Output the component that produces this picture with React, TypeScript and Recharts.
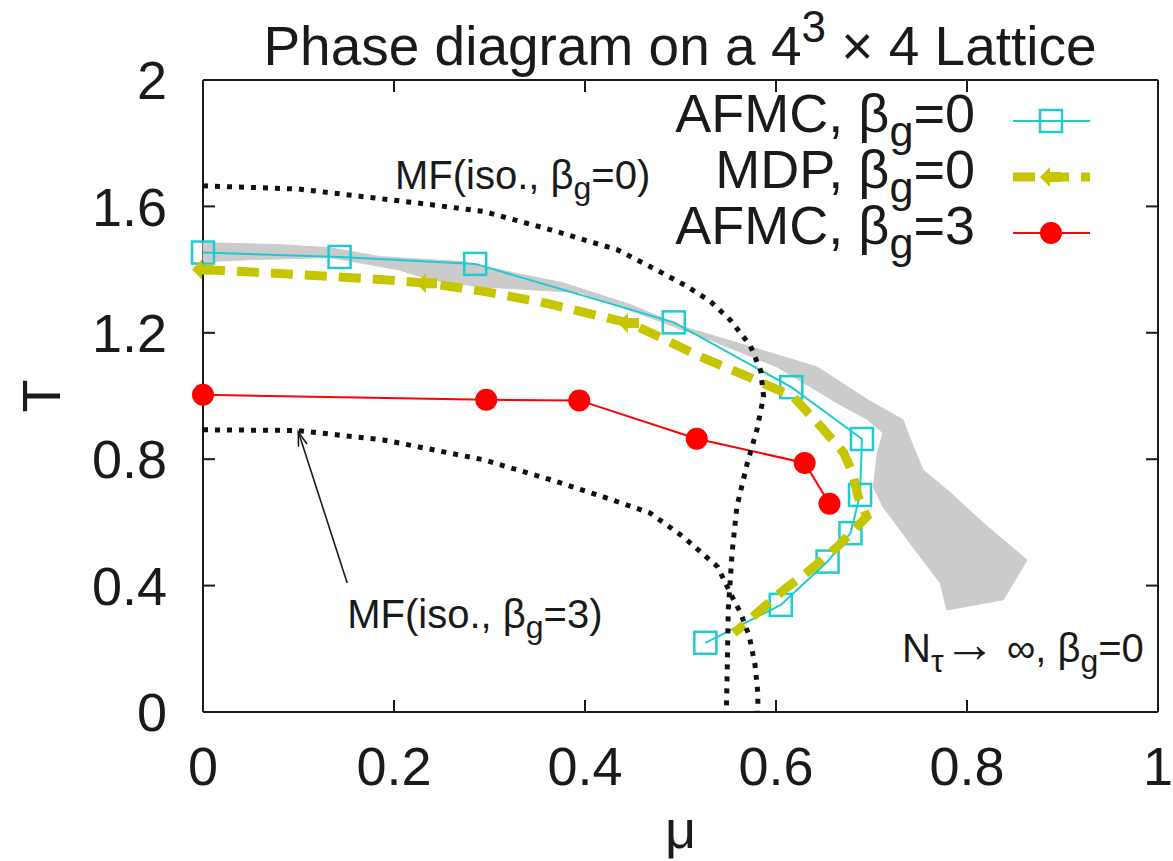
import React from "react";
import { ComposedChart, Scatter, XAxis, YAxis, ReferenceLine, ReferenceDot } from "recharts";

type Pt = { mu: number; T: number };
type Part = { t: string; sub?: boolean; sup?: boolean; big?: boolean };

const W = 1173;
const H = 861;
const FONT = '"Liberation Sans", Arial, Helvetica, sans-serif';

const CYAN = "#1fcbd1";
const OLIVE = "#c5c500";
const RED = "#ff0000";
const GRAY = "#cbcbcb";
const INK = "#1a1a1a";

const xTicks = [0, 0.2, 0.4, 0.6, 0.8, 1];
const yTicks = [0, 0.4, 0.8, 1.2, 1.6, 2];

// N_tau -> infinity band, outer edge then inner edge
const band: Pt[] = [
  { mu: 0.0, T: 1.485 }, { mu: 0.081, T: 1.479 }, { mu: 0.133, T: 1.469 },
  { mu: 0.186, T: 1.441 }, { mu: 0.273, T: 1.425 }, { mu: 0.325, T: 1.39 },
  { mu: 0.377, T: 1.358 }, { mu: 0.448, T: 1.289 }, { mu: 0.503, T: 1.219 },
  { mu: 0.584, T: 1.146 }, { mu: 0.643, T: 1.092 }, { mu: 0.664, T: 1.051 },
  { mu: 0.696, T: 0.988 }, { mu: 0.733, T: 0.925 }, { mu: 0.741, T: 0.861 },
  { mu: 0.754, T: 0.766 }, { mu: 0.783, T: 0.693 }, { mu: 0.817, T: 0.598 },
  { mu: 0.863, T: 0.481 }, { mu: 0.838, T: 0.355 }, { mu: 0.779, T: 0.323 },
  { mu: 0.772, T: 0.408 }, { mu: 0.748, T: 0.503 }, { mu: 0.712, T: 0.649 },
  { mu: 0.702, T: 0.712 }, { mu: 0.706, T: 0.82 }, { mu: 0.712, T: 0.883 },
  { mu: 0.696, T: 0.925 }, { mu: 0.664, T: 0.978 }, { mu: 0.636, T: 1.029 },
  { mu: 0.601, T: 1.092 }, { mu: 0.539, T: 1.168 }, { mu: 0.468, T: 1.248 },
  { mu: 0.395, T: 1.327 }, { mu: 0.29, T: 1.346 }, { mu: 0.238, T: 1.368 },
  { mu: 0.204, T: 1.4 }, { mu: 0.133, T: 1.438 }, { mu: 0.046, T: 1.431 },
  { mu: 0.0, T: 1.425 },
];

const afmc0: Pt[] = [
  { mu: 0.0, T: 1.454 }, { mu: 0.143, T: 1.44 }, { mu: 0.285, T: 1.418 },
  { mu: 0.493, T: 1.233 }, { mu: 0.616, T: 1.028 }, { mu: 0.69, T: 0.864 },
  { mu: 0.688, T: 0.687 }, { mu: 0.678, T: 0.566 }, { mu: 0.654, T: 0.476 },
  { mu: 0.605, T: 0.339 }, { mu: 0.526, T: 0.219 },
];

const mdpCurve: Pt[] = [
  { mu: 0.0, T: 1.4 }, { mu: 0.084, T: 1.387 }, { mu: 0.189, T: 1.368 },
  { mu: 0.2345, T: 1.357 }, { mu: 0.294, T: 1.331 }, { mu: 0.36, T: 1.293 },
  { mu: 0.446, T: 1.231 }, { mu: 0.469, T: 1.2 }, { mu: 0.521, T: 1.124 },
  { mu: 0.573, T: 1.058 }, { mu: 0.618, T: 0.998 }, { mu: 0.65, T: 0.893 },
  { mu: 0.671, T: 0.82 }, { mu: 0.68, T: 0.757 }, { mu: 0.686, T: 0.682 },
  { mu: 0.695, T: 0.618 }, { mu: 0.664, T: 0.522 }, { mu: 0.636, T: 0.45 },
  { mu: 0.608, T: 0.386 }, { mu: 0.58, T: 0.313 }, { mu: 0.566, T: 0.275 },
  { mu: 0.556, T: 0.25 },
];

const mdpMarks: Pt[] = [
  { mu: 0.0, T: 1.4 }, { mu: 0.2345, T: 1.357 }, { mu: 0.446, T: 1.231 },
];

const afmc3: Pt[] = [
  { mu: 0.0, T: 1.004 }, { mu: 0.2966, T: 0.988 }, { mu: 0.394, T: 0.986 },
  { mu: 0.517, T: 0.865 }, { mu: 0.63, T: 0.788 }, { mu: 0.656, T: 0.659 },
];

const mfIso0: Pt[] = [
  { mu: 0.0, T: 1.665 }, { mu: 0.1, T: 1.655 }, { mu: 0.224, T: 1.611 },
  { mu: 0.294, T: 1.584 }, { mu: 0.364, T: 1.526 }, { mu: 0.4335, T: 1.463 },
  { mu: 0.468, T: 1.41 }, { mu: 0.505, T: 1.35 }, { mu: 0.531, T: 1.3 },
  { mu: 0.552, T: 1.241 }, { mu: 0.573, T: 1.16 }, { mu: 0.584, T: 1.08 },
  { mu: 0.587, T: 0.998 }, { mu: 0.58, T: 0.893 }, { mu: 0.57, T: 0.788 },
  { mu: 0.559, T: 0.649 }, { mu: 0.554, T: 0.503 }, { mu: 0.55, T: 0.323 },
  { mu: 0.549, T: 0.143 }, { mu: 0.548, T: 0.0 },
];

const mfIso3: Pt[] = [
  { mu: 0.0, T: 0.893 }, { mu: 0.098, T: 0.891 }, { mu: 0.189, T: 0.861 },
  { mu: 0.294, T: 0.798 }, { mu: 0.364, T: 0.735 }, { mu: 0.42, T: 0.68 },
  { mu: 0.468, T: 0.63 }, { mu: 0.503, T: 0.554 }, { mu: 0.539, T: 0.459 },
  { mu: 0.552, T: 0.377 }, { mu: 0.563, T: 0.313 }, { mu: 0.572, T: 0.24 },
  { mu: 0.578, T: 0.15 }, { mu: 0.581, T: 0.06 }, { mu: 0.581, T: 0.0 },
];

const arrowFrom: Pt = { mu: 0.151, T: 0.408 };
const arrowTo: Pt = { mu: 0.0998, T: 0.887 };

const notes: { mu: number; T: number; parts: Part[] }[] = [
  { mu: 0.201, T: 1.656, parts: [{ t: "MF(iso., β" }, { t: "g", sub: true }, { t: "=0)" }] },
  { mu: 0.151, T: 0.266, parts: [{ t: "MF(iso., β" }, { t: "g", sub: true }, { t: "=3)" }] },
  {
    mu: 0.732,
    T: 0.158,
    parts: [
      { t: "N" },
      { t: "τ", sub: true },
      { t: "→", big: true },
      { t: " ∞, β" },
      { t: "g", sub: true },
      { t: "=0" },
    ],
  },
];

const legendRows = [
  { parts: [{ t: "AFMC, β" }, { t: "g", sub: true }, { t: "=0" }], kind: "square" },
  { parts: [{ t: "MDP, β" }, { t: "g", sub: true }, { t: "=0" }], kind: "mdp" },
  { parts: [{ t: "AFMC, β" }, { t: "g", sub: true }, { t: "=3" }], kind: "dot" },
];

const titleParts: Part[] = [
  { t: "Phase diagram on a 4" },
  { t: "3", sup: true },
  { t: " × 4 Lattice" },
];

function Rich({ x, y, parts, size, anchor = "start" }: any) {
  let level = 0;
  return (
    <text x={x} y={y} fontSize={size} fontFamily={FONT} fill={INK} textAnchor={anchor}>
      {parts.map((p: Part, i: number) => {
        const target = p.sub ? size * 0.26 : p.sup ? -size * 0.42 : 0;
        const dy = target - level;
        level = target;
        const fs = p.sub || p.sup ? size * 0.8 : p.big ? size * 1.3 : undefined;
        return (
          <tspan key={i} dy={dy || undefined} fontSize={fs}>
            {p.t}
          </tspan>
        );
      })}
    </text>
  );
}

const Square = (p: any) => (
  <rect x={p.cx - 11} y={p.cy - 11} width={22} height={22} fill="none" stroke={CYAN} strokeWidth={2.5} />
);
const RedDot = (p: any) => <circle cx={p.cx} cy={p.cy} r={11} fill={RED} />;
const ArrowMark = (p: any) => {
  const { cx, cy } = p;
  return (
    <path
      d={`M${cx - 11},${cy} L${cx - 1},${cy - 10} L${cx - 1},${cy - 5} L${cx + 10},${cy - 5} L${cx + 10},${cy + 5} L${cx - 1},${cy + 5} L${cx - 1},${cy + 10} Z`}
      fill={OLIVE}
    />
  );
};
const NoMark = () => <g />;
const NoTick = () => <g />;

const bandShape = (p: any) => {
  const d = p.points.map((q: any, i: number) => `${i ? "L" : "M"}${q.x},${q.y}`).join(" ") + " Z";
  return <path d={d} fill={GRAY} stroke={GRAY} strokeWidth={1} strokeLinejoin="round" />;
};

const arrowShape = (p: any) => {
  const { x1, y1, x2, y2 } = p;
  const a = Math.atan2(y2 - y1, x2 - x1);
  const len = 15;
  const h1x = x2 - len * Math.cos(a - 0.3);
  const h1y = y2 - len * Math.sin(a - 0.3);
  const h2x = x2 - len * Math.cos(a + 0.3);
  const h2y = y2 - len * Math.sin(a + 0.3);
  return (
    <g stroke={INK} strokeWidth={1.6} fill="none">
      <line x1={x1} y1={y1} x2={x2} y2={y2} />
      <path d={`M${h1x},${h1y} L${x2},${y2} L${h2x},${h2y}`} />
    </g>
  );
};

const TLabel = (p: any) => {
  const vb = p.viewBox;
  return (
    <text
      transform={`translate(${vb.x + 60},${vb.y + vb.height / 2}) rotate(-90)`}
      textAnchor="middle"
      fontSize={54}
      fontFamily={FONT}
      fill={INK}
    >
      T
    </text>
  );
};

const tickStyle = { fontSize: 54, fill: INK, fontFamily: FONT };
const axisLine = { stroke: INK, strokeWidth: 2 };
const dotted = { stroke: "#111", strokeWidth: 5, strokeDasharray: "5 7" };

export default function App() {
  return (
    <div style={{ position: "absolute", left: 0, top: 0, width: W, height: H, background: "#fff" }}>
      <ComposedChart width={W} height={H} margin={{ top: 79, right: 14, bottom: 49, left: 0 }}>
        <XAxis
          type="number"
          dataKey="mu"
          domain={[0, 1]}
          ticks={xTicks}
          interval={0}
          height={100}
          tickSize={-12}
          tickMargin={47}
          tick={tickStyle}
          axisLine={axisLine}
          tickLine={axisLine}
          label={{ value: "μ", position: "bottom", offset: -2, fontSize: 54, fill: INK, fontFamily: FONT }}
        />
        {/* mirrored frame: top and right axes carry inward ticks, no labels */}
        <XAxis
          xAxisId="top"
          orientation="top"
          type="number"
          dataKey="mu"
          domain={[0, 1]}
          ticks={xTicks}
          interval={0}
          height={1}
          tickSize={-12}
          tick={NoTick}
          axisLine={axisLine}
          tickLine={axisLine}
        />
        <YAxis
          type="number"
          dataKey="T"
          domain={[0, 2]}
          ticks={yTicks}
          interval={0}
          width={203}
          tickSize={-12}
          tickMargin={48}
          tick={tickStyle}
          axisLine={axisLine}
          tickLine={axisLine}
          label={{ content: TLabel }}
        />
        <YAxis
          yAxisId="right"
          orientation="right"
          type="number"
          dataKey="T"
          domain={[0, 2]}
          ticks={yTicks}
          interval={0}
          width={1}
          tickSize={-12}
          tick={NoTick}
          axisLine={axisLine}
          tickLine={axisLine}
        />

        <Scatter
          data={band}
          xAxisId="top"
          yAxisId="right"
          shape={NoMark}
          line={bandShape}
          isAnimationActive={false}
        />
        <Scatter
          data={afmc0}
          shape={Square}
          line={{ stroke: CYAN, strokeWidth: 2 }}
          isAnimationActive={false}
        />
        <Scatter
          data={mdpCurve}
          shape={NoMark}
          line={{ stroke: OLIVE, strokeWidth: 9, strokeDasharray: "22 12" }}
          isAnimationActive={false}
        />
        <Scatter data={mdpMarks} shape={ArrowMark} isAnimationActive={false} />
        <Scatter
          data={afmc3}
          shape={RedDot}
          line={{ stroke: RED, strokeWidth: 2 }}
          isAnimationActive={false}
        />
        <Scatter data={mfIso0} shape={NoMark} line={dotted} isAnimationActive={false} />
        <Scatter data={mfIso3} shape={NoMark} line={dotted} isAnimationActive={false} />

        <ReferenceLine
          segment={[
            { x: arrowFrom.mu, y: arrowFrom.T },
            { x: arrowTo.mu, y: arrowTo.T },
          ]}
          ifOverflow="visible"
          shape={arrowShape}
        />
        {notes.map((n, i) => (
          <ReferenceDot
            key={i}
            x={n.mu}
            y={n.T}
            r={0}
            ifOverflow="visible"
            shape={(p: any) => <Rich x={p.cx} y={p.cy} parts={n.parts} size={40} />}
          />
        ))}
      </ComposedChart>

      <svg
        width={W}
        height={H}
        style={{ position: "absolute", left: 0, top: 0, pointerEvents: "none" }}
      >
        <Rich x={680} y={65} parts={titleParts} size={55} anchor="middle" />
        {legendRows.map((row, i) => {
          const base = 132 + i * 56;
          const ly = base - 11;
          return (
            <g key={i}>
              <Rich x={975} y={base} parts={row.parts} size={54} anchor="end" />
              {row.kind === "square" && (
                <g>
                  <line x1={1013} y1={ly} x2={1090} y2={ly} stroke={CYAN} strokeWidth={2} />
                  <Square cx={1051} cy={ly} />
                </g>
              )}
              {row.kind === "mdp" && (
                <g>
                  <line
                    x1={1013}
                    y1={ly}
                    x2={1090}
                    y2={ly}
                    stroke={OLIVE}
                    strokeWidth={9}
                    strokeDasharray="22 12"
                  />
                  <ArrowMark cx={1051} cy={ly} />
                </g>
              )}
              {row.kind === "dot" && (
                <g>
                  <line x1={1013} y1={ly} x2={1090} y2={ly} stroke={RED} strokeWidth={2} />
                  <RedDot cx={1051} cy={ly} />
                </g>
              )}
            </g>
          );
        })}
      </svg>
    </div>
  );
}
